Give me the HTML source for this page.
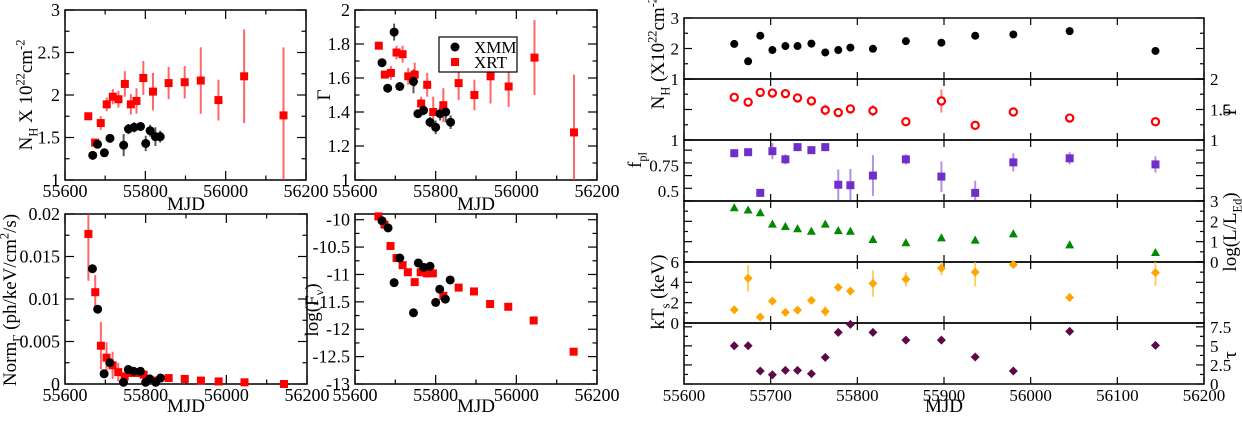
<!DOCTYPE html>
<html><head><meta charset="utf-8">
<style>
html,body{margin:0;padding:0;background:#fff;}
svg, svg text, svg tspan{font-family:"Liberation Serif","DejaVu Serif",serif;}
</style></head>
<body>
<svg id="chart" width="1242" height="416" viewBox="0 0 1242 416" xmlns="http://www.w3.org/2000/svg"></svg>
<script>
// ---------- Panel A: N_H ----------
const nhXrtMjd=[55658,55675,55689,55704,55719,55733,55749,55764,55778,55795,55819,55858,55898,55938,55982,56046,56144];
const nhXrtVal=[1.75,1.44,1.67,1.89,1.98,1.95,2.13,1.89,1.93,2.20,2.04,2.14,2.15,2.17,1.94,2.22,1.76];
const nhXrtErr=[0.02,0.02,0.08,0.08,0.09,0.1,0.15,0.12,0.15,0.2,0.22,0.19,0.19,0.39,0.24,0.55,0.8];
const nhXmmMjd=[55669,55681,55698,55712,55746,55758,55772,55788,55801,55812,55825,55837];
const nhXmmVal=[1.29,1.42,1.32,1.49,1.41,1.60,1.62,1.63,1.43,1.58,1.51,1.51];
const nhXmmErr=[0.02,0.03,0.05,0.03,0.13,0.06,0.06,0.04,0.09,0.07,0.11,0.07];
// ---------- Panel B: Gamma ----------
const gXrtMjd=[55659,55674,55689,55703,55718,55732,55748,55764,55779,55794,55819,55857,55896,55936,55981,56045,56143];
const gXrtVal=[1.79,1.62,1.63,1.75,1.74,1.61,1.62,1.45,1.56,1.40,1.44,1.57,1.50,1.61,1.55,1.72,1.28];
const gXrtErr=[0.02,0.02,0.04,0.04,0.05,0.05,0.07,0.04,0.07,0.09,0.1,0.1,0.09,0.16,0.12,0.22,0.34];
const gXmmMjd=[55667,55681,55697,55711,55745,55756,55770,55786,55800,55811,55825,55837];
const gXmmVal=[1.69,1.54,1.87,1.55,1.58,1.39,1.41,1.34,1.31,1.39,1.40,1.34];
const gXmmErr=[0.01,0.01,0.05,0.01,0.07,0.02,0.03,0.03,0.04,0.04,0.06,0.04];
// ---------- Panel C: Norm ----------
const nXrtMjd=[55658,55675,55689,55703,55718,55732,55748,55764,55778,55795,55819,55857,55897,55937,55981,56045,56143];
const nXrtVal=[0.01765,0.0108,0.0045,0.0031,0.0022,0.0014,0.0009,0.0013,0.0013,0.0011,0.0004,0.0007,0.0006,0.0004,0.0003,0.0002,0.0000];
const nXrtErr=[0.0055,0.002,0.0028,0.0018,0.0016,0.0011,0.0003,0.0003,0.0003,0.0003,0.0002,0.0001,0.0001,0.0001,0.0001,0.0001,0.0001];
const nXmmMjd=[55668,55681,55697,55711,55745,55757,55770,55787,55800,55810,55825,55837];
const nXmmVal=[0.01356,0.0088,0.0012,0.0025,0.0002,0.0017,0.0015,0.0015,0.0002,0.0006,0.0002,0.0007];
// ---------- Panel D: log flux ----------
const fXrtMjd=[55658,55673,55688,55703,55718,55731,55748,55763,55778,55793,55819,55857,55895,55935,55980,56043,56142];
const fXrtVal=[-9.94,-10.09,-10.48,-10.70,-10.83,-10.96,-11.14,-10.96,-10.98,-10.98,-11.39,-11.24,-11.31,-11.54,-11.59,-11.84,-12.41];
const fXmmMjd=[55667,55682,55697,55711,55745,55757,55770,55786,55800,55810,55824,55836];
const fXmmVal=[-10.02,-10.15,-11.15,-10.70,-11.70,-10.79,-10.87,-10.85,-11.51,-11.27,-11.45,-11.10];
// ---------- Right stack ----------
const rMjd=[55658,55674,55688,55702,55717,55731,55747,55763,55778,55792,55818,55856,55897,55936,55980,56045,56144];
const rNh=[2.15,1.58,2.42,1.95,2.08,2.08,2.16,1.87,1.95,2.03,1.99,2.24,2.19,2.42,2.46,2.57,1.92];
const rNhErr=[0.06,0.1,0.06,0.06,0.05,0.05,0.08,0.05,0.07,0.1,0.12,0.08,0.12,0.06,0.06,0.12,0.12];
const rGam=[1.70,1.62,1.78,1.77,1.76,1.69,1.64,1.49,1.45,1.51,1.48,1.30,1.64,1.24,1.46,1.36,1.30];
const rGamErr=[0.02,0.05,0.03,0.04,0.04,0.05,0.06,0.09,0.05,0.06,0.09,0.05,0.19,0.07,0.05,0.05,0.06];
const rFpl=[0.87,0.88,0.48,0.89,0.81,0.93,0.90,0.93,0.56,0.555,0.65,0.81,0.64,0.48,0.78,0.82,0.76];
const rFplErr=[0.04,0.03,0.02,0.08,0.05,0.04,0.02,0.04,0.15,0.16,0.2,0.05,0.15,0.12,0.09,0.06,0.08];
const rLog=[2.67,2.56,2.43,1.87,1.75,1.64,1.52,1.87,1.55,1.52,1.11,0.95,1.19,1.08,1.39,0.85,0.47];
const rKt=[1.30,4.4,0.59,2.15,1.04,1.27,2.22,1.14,3.5,3.13,3.88,4.3,5.4,5.0,5.74,2.51,4.96];
const rKtErr=[0.2,1.3,0.2,0.2,0.2,0.2,0.2,0.5,0.2,0.2,1.3,0.7,0.7,1.4,0.2,0.4,1.3];
const rTau=[5.02,5.02,1.70,1.22,1.79,1.79,1.35,3.49,6.77,7.82,6.77,5.76,5.76,3.54,1.70,6.9,5.07];

const svg=document.getElementById('chart');
const NS='http://www.w3.org/2000/svg';
function el(tag,attrs,parent){const e=document.createElementNS(NS,tag);for(const k in attrs)e.setAttribute(k,attrs[k]);if(tag==='text')e.style.fontFamily='"Liberation Serif", "DejaVu Serif", serif';(parent||svg).appendChild(e);return e;}
function fmt(v){return String(Math.round(v*10000)/10000);}

function makePanel(name,x0,x1,y0,y1,xmin,xmax,ymin,ymax){
  const g=el('g',{});
  
  
  return {g,x0,x1,y0,y1,sx:v=>x0+(v-xmin)/(xmax-xmin)*(x1-x0),sy:v=>y1-(v-ymin)/(ymax-ymin)*(y1-y0),xmin,xmax,ymin,ymax};
}
function frame(p){
  const r=el('rect',{x:p.x0,y:p.y0,width:p.x1-p.x0,height:p.y1-p.y0,fill:'none',stroke:'#000','stroke-width':1.5},p.g);
  
}
function xTicks(p,step,minor,len,labels,fs){
  for(let v=p.xmin;v<=p.xmax+1e-9;v+=minor){
    const major=Math.abs(((v-p.xmin)/step)-Math.round((v-p.xmin)/step))<1e-6;
    const L=major?len:len/2;const x=p.sx(v);
    el('line',{x1:x,x2:x,y1:p.y1,y2:p.y1-L,stroke:'#000','stroke-width':1.2},p.g);
    el('line',{x1:x,x2:x,y1:p.y0,y2:p.y0+L,stroke:'#000','stroke-width':1.2},p.g);
    if(major&&labels){const t=el('text',{x:x,y:p.y1+17,'text-anchor':'middle','font-size':fs||18},p.g);t.textContent=fmt(v);
      }
  }
}
function yTicks(p,step,minor,len,labelSide,labelVals,fs){
  for(let v=p.ymin;v<=p.ymax+1e-9;v+=minor){
    const major=Math.abs(((v-p.ymin)/step)-Math.round((v-p.ymin)/step))<1e-6;
    const L=major?len:len/2;const y=p.sy(v);
    el('line',{x1:p.x0,x2:p.x0+L,y1:y,y2:y,stroke:'#000','stroke-width':1.2},p.g);
    el('line',{x1:p.x1,x2:p.x1-L,y1:y,y2:y,stroke:'#000','stroke-width':1.2},p.g);
  }
  if(labelVals){labelVals.forEach(v=>{
    const y=p.sy(v);
    const t=el('text',{x:labelSide==='left'?p.x0-5:p.x1+6,y:y+6,'text-anchor':labelSide==='left'?'end':'start','font-size':fs||18},p.g);
    t.textContent=fmt(v);
  });}
}
function yTicksFrom(p,start,step,minor,len){
  for(let v=start;v<=p.ymax+1e-9;v+=minor){
    const major=Math.abs(((v-start)/step)-Math.round((v-start)/step))<1e-6;
    const L=major?len:len/2;const y=p.sy(v);
    el('line',{x1:p.x0,x2:p.x0+L,y1:y,y2:y,stroke:'#000','stroke-width':1.2},p.g);
    el('line',{x1:p.x1,x2:p.x1-L,y1:y,y2:y,stroke:'#000','stroke-width':1.2},p.g);
  }
}
function errbar(p,x,v,e,color,w){
  if(!e)return;
  el('line',{x1:p.sx(x),x2:p.sx(x),y1:Math.max(p.y0,Math.min(p.y1,p.sy(v+e))),y2:Math.max(p.y0,Math.min(p.y1,p.sy(v-e))),stroke:color,'stroke-width':w||2,opacity:0.75},p.g);
}
function marker(p,shape,x,v,color,s,name){
  const cx=p.sx(x),cy=p.sy(v);let m;
  if(shape==='sq')m=el('rect',{x:cx-s,y:cy-s,width:2*s,height:2*s,fill:color},p.g);
  else if(shape==='c')m=el('circle',{cx,cy,r:s,fill:color},p.g);
  else if(shape==='oc')m=el('circle',{cx,cy,r:s,fill:'#fff',stroke:color,'stroke-width':2.2},p.g);
  else if(shape==='tri')m=el('polygon',{points:`${cx},${cy-s} ${cx+s},${cy+s*0.8} ${cx-s},${cy+s*0.8}`,fill:color},p.g);
  else if(shape==='dia')m=el('polygon',{points:`${cx},${cy-s} ${cx+s},${cy} ${cx},${cy+s} ${cx-s},${cy}`,fill:color},p.g);
  
  
}
function title(x,y,rot,parts,fs,name){
  fs=fs||19;
  const t=el('text',{x:x,y:y,'text-anchor':'middle','font-size':fs,transform:rot?`rotate(${rot} ${x} ${y})`:''});
  let cur=0;
  parts.forEach(pt=>{
    const s=el('tspan',{},t);
    let target=0;
    if(pt[1]==='sub'){target=fs*0.3;s.setAttribute('font-size',fs*0.65);}
    else if(pt[1]==='super'){target=-fs*0.4;s.setAttribute('font-size',fs*0.65);}
    s.setAttribute('dy',target-cur);cur=target;
    s.textContent=pt[0];
  });
  
}

// Panel A
let p=makePanel('nh-panel',65,306,10,180,55600,56200,1,3);
frame(p);xTicks(p,200,100,9,true);yTicks(p,0.5,0.25,9,'left',[1,1.5,2,2.5,3]);
nhXrtMjd.forEach((m,i)=>errbar(p,m,nhXrtVal[i],nhXrtErr[i],'#f33'));
nhXmmMjd.forEach((m,i)=>errbar(p,m,nhXmmVal[i],nhXmmErr[i],'#222'));
nhXrtMjd.forEach((m,i)=>marker(p,'sq',m,nhXrtVal[i],'#f00',4,'xrt-point'));
nhXmmMjd.forEach((m,i)=>marker(p,'c',m,nhXmmVal[i],'#000',4.5,'xmm-point'));
title(186,210,0,[['MJD']],19,'x-axis-title');
title(32,95,-90,[['N'],['H','sub'],[' X 10'],['22','super'],['cm'],['-2','super']],19,'y-axis-title');

// Panel B
p=makePanel('gamma-panel',355,597,10,180,55600,56200,1,2);
frame(p);xTicks(p,200,100,9,true);yTicks(p,0.2,0.1,9,'left',[1,1.2,1.4,1.6,1.8,2]);
gXrtMjd.forEach((m,i)=>errbar(p,m,gXrtVal[i],gXrtErr[i],'#f33'));
gXmmMjd.forEach((m,i)=>errbar(p,m,gXmmVal[i],gXmmErr[i],'#222'));
gXrtMjd.forEach((m,i)=>marker(p,'sq',m,gXrtVal[i],'#f00',4,'xrt-point'));
gXmmMjd.forEach((m,i)=>marker(p,'c',m,gXmmVal[i],'#000',4.5,'xmm-point'));
title(476,210,0,[['MJD']],19,'x-axis-title');
title(330,95,-90,[['Γ']],19,'y-axis-title');
const lg=el('g',{});
el('rect',{x:439,y:37,width:78,height:35,fill:'#fff',stroke:'#000','stroke-width':1.2},lg);
el('circle',{cx:455,cy:47,r:4.5,fill:'#000'},lg);
el('rect',{x:451,y:58,width:8,height:8,fill:'#f00'},lg);
let lt=el('text',{x:474,y:53,'font-size':17},lg);lt.textContent='XMM';
lt=el('text',{x:474,y:68,'font-size':17},lg);lt.textContent='XRT';

// Panel C
p=makePanel('norm-panel',65,307,214,384,55600,56200,0,0.02);
frame(p);xTicks(p,200,100,9,true);yTicks(p,0.005,0.0025,9,'left',[0,0.005,0.01,0.015,0.02]);
nXrtMjd.forEach((m,i)=>errbar(p,m,nXrtVal[i],nXrtErr[i],'#f33'));
nXrtMjd.forEach((m,i)=>marker(p,'sq',m,nXrtVal[i],'#f00',4,'xrt-point'));
nXmmMjd.forEach((m,i)=>marker(p,'c',m,nXmmVal[i],'#000',4.5,'xmm-point'));
title(186,412,0,[['MJD']],19,'x-axis-title');
title(16,300,-90,[['Norm'],['Γ','sub'],[' (ph/keV/cm'],['2','super'],['/s)']],19,'y-axis-title');

// Panel D
p=makePanel('flux-panel',355,597,214,384,55600,56200,-13,-9.896);
frame(p);xTicks(p,200,100,9,true);yTicksFrom(p,-13,0.5,0.25,9);
[-13,-12.5,-12,-11.5,-11,-10.5,-10].forEach(v=>{const t=el('text',{x:p.x0-5,y:p.sy(v)+6,'text-anchor':'end','font-size':18},p.g);t.textContent=String(v);});
fXrtMjd.forEach((m,i)=>marker(p,'sq',m,fXrtVal[i],'#f00',4,'xrt-point'));
fXmmMjd.forEach((m,i)=>marker(p,'c',m,fXmmVal[i],'#000',4.5,'xmm-point'));
title(476,412,0,[['MJD']],19,'x-axis-title');
title(318,310,-90,[['log(F'],['ν','sub'],[')']],19,'y-axis-title');

// Right stack
const RX0=684,RX1=1204;
const subs=[
 {name:'nh-subpanel',y0:18,y1:79,min:1,max:3,step:1,minor:0.5,side:'left',labels:[1,2,3],data:rNh,err:rNhErr,shape:'c',color:'#000',s:4,ecol:'#333'},
 {name:'gamma-subpanel',y0:79,y1:140,min:1,max:2,step:0.5,minor:0.25,side:'right',labels:[1,1.5,2],data:rGam,err:rGamErr,shape:'oc',color:'#f00',s:3.6,ecol:'#f55'},
 {name:'fpl-subpanel',y0:140,y1:201,min:0.4,max:1,step:0.25,minor:0.125,side:'left',labels:[0.5,0.75,1],data:rFpl,err:rFplErr,shape:'sq',color:'#7030c8',s:4,ecol:'#9a6ae0',start:0.5},
 {name:'lum-subpanel',y0:201,y1:262,min:0,max:3,step:1,minor:0.5,side:'right',labels:[0,1,2,3],data:rLog,err:null,shape:'tri',color:'#008a00',s:4.5,ecol:'#080'},
 {name:'kt-subpanel',y0:262,y1:323,min:0,max:6,step:2,minor:1,side:'left',labels:[0,2,4,6],data:rKt,err:rKtErr,shape:'dia',color:'#ffa500',s:4.5,ecol:'#fb3'},
 {name:'tau-subpanel',y0:323,y1:384,min:0,max:8,step:2.5,minor:1.25,side:'right',labels:[0,2.5,5,7.5],data:rTau,err:null,shape:'dia',color:'#5e0848',s:4.5,ecol:'#5e0848'}
];
subs.forEach((s,idx)=>{
  const q=makePanel(s.name,RX0,RX1,s.y0,s.y1,55600,56200,s.min,s.max);
  frame(q);
  xTicks(q,100,100,7,idx===subs.length-1,17);
  if(s.start!==undefined){yTicksFrom(q,s.min,0.125,0.125,8);}else yTicks(q,s.step,s.minor,8,null,null);
  s.labels.forEach(v=>{const t=el('text',{x:s.side==='left'?q.x0-5:q.x1+6,y:q.sy(v)+6,'text-anchor':s.side==='left'?'end':'start','font-size':17},q.g);t.textContent=fmt(v);});
  rMjd.forEach((m,i)=>{ if(s.err) errbar(q,m,s.data[i],s.err[i],s.ecol,2); });
  rMjd.forEach((m,i)=>marker(q,s.shape,m,s.data[i],s.color,s.s,'data-point'));
});
title(944,412,0,[['MJD']],19,'x-axis-title');
title(664,50,-90,[['N'],['H','sub'],[' (X10'],['22','super'],['cm'],['-2','super'],[')']],19,'nh-axis-title');
title(641,160,-90,[['f'],['pl','sub']],19,'fpl-axis-title');
title(664,292,-90,[['kT'],['s','sub'],[' (keV)']],19,'kt-axis-title');
title(1236,110,-90,[['Γ']],19,'gamma-axis-title');
title(1236,232,-90,[['log(L/L'],['Ed','sub'],[')']],19,'lum-axis-title');
title(1236,355,-90,[['τ']],19,'tau-axis-title');
</script>
</body></html>
